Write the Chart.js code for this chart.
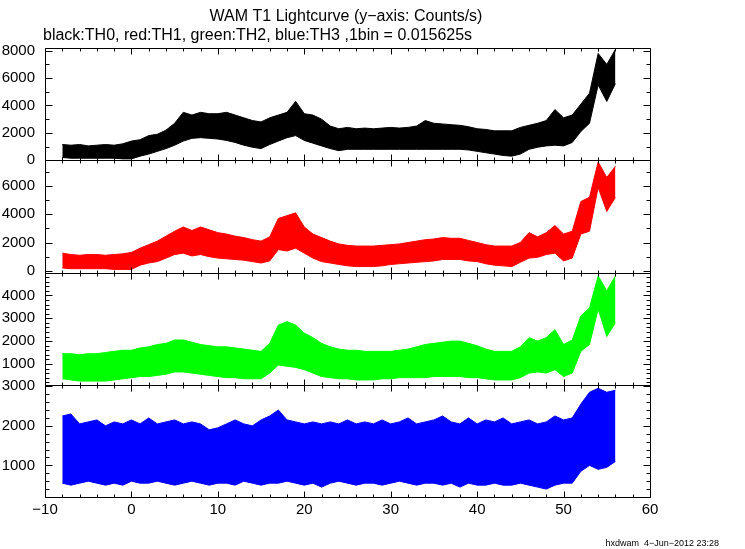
<!DOCTYPE html>
<html>
<head>
<meta charset="utf-8">
<title>WAM T1 Lightcurve</title>
<script src="https://cdn.jsdelivr.net/npm/chart.js@4.4.1/dist/chart.umd.min.js"></script>
<style>
  body { margin: 0; background: #fff; }
  canvas { display: block; }
</style>
</head>
<body>
<canvas id="lc" width="745" height="549"></canvas>
<script>
// time bins (s), one per second
const times = [-8, -7, -6, -5, -4, -3, -2, -1, 0, 1, 2, 3, 4, 5, 6, 7, 8, 9, 10, 11, 12,
  13, 14, 15, 16, 17, 18, 19, 20, 21, 22, 23, 24, 25, 26, 27, 28, 29, 30, 31, 32, 33, 34,
  35, 36, 37, 38, 39, 40, 41, 42, 43, 44, 45, 46, 47, 48, 49, 50, 51, 52, 53, 54, 55, 56];

// upper / lower envelope of each noisy lightcurve (counts/s)
const th0Upper = [1150, 1100, 1150, 1050, 1100, 1150, 1100, 1200, 1400, 1500, 1800, 1900, 2200,
  2700, 3500, 3300, 3500, 3400, 3400, 3500, 3300, 3100, 2900, 2800, 3100, 3300, 3500, 4300, 3400,
  3300, 3000, 2500, 2300, 2400, 2300, 2350, 2300, 2350, 2400, 2350, 2400, 2500, 2900, 2700, 2650,
  2600, 2550, 2450, 2300, 2250, 2150, 2150, 2150, 2400, 2550, 2700, 2900, 3700, 3100, 3300, 4100,
  4900, 7800, 7000, 8100];
const th0Lower = [200, 150, 150, 150, 150, 150, 150, 100, 100, 300, 450, 650, 850, 1100, 1400,
  1600, 1650, 1600, 1550, 1450, 1300, 1100, 950, 850, 1150, 1400, 1650, 1800, 1450, 1250, 1050,
  850, 700, 800, 800, 800, 800, 800, 800, 800, 800, 800, 800, 800, 800, 800, 800, 750, 650, 550,
  450, 350, 300, 450, 800, 950, 1050, 1100, 1050, 1300, 2100, 2700, 5500, 4300, 5600];

const th1Upper = [1250, 1150, 1100, 1150, 1150, 1100, 1150, 1200, 1300, 1600, 1850, 2100, 2450,
  2800, 3100, 2850, 3100, 2900, 2700, 2600, 2450, 2350, 2200, 2100, 2400, 3700, 3900, 4100, 3100,
  2600, 2350, 2100, 1900, 1800, 1750, 1750, 1750, 1800, 1850, 1900, 2000, 2100, 2200, 2250, 2350,
  2300, 2300, 2150, 2000, 1850, 1750, 1750, 1750, 2000, 2700, 2400, 2700, 3200, 2600, 2800, 4900,
  5200, 7700, 6600, 7400];
const th1Lower = [200, 150, 150, 150, 150, 150, 100, 100, 100, 400, 550, 650, 900, 1150, 1250,
  1050, 1150, 1000, 900, 850, 800, 750, 650, 550, 700, 1500, 1400, 1600, 1250, 900, 650, 550, 450,
  350, 300, 300, 300, 350, 450, 500, 550, 600, 650, 700, 800, 800, 800, 700, 650, 500, 400, 350,
  300, 600, 900, 950, 1150, 1250, 700, 900, 2600, 2800, 5900, 4200, 5200];

const th2Upper = [1450, 1450, 1400, 1450, 1450, 1500, 1550, 1600, 1600, 1700, 1750, 1850, 1900,
  2050, 2050, 1950, 1850, 1800, 1750, 1750, 1700, 1650, 1600, 1550, 1900, 2700, 2850, 2700, 2350,
  2150, 1900, 1750, 1650, 1600, 1600, 1550, 1550, 1550, 1550, 1600, 1650, 1750, 1850, 1900, 1950,
  2000, 2000, 1900, 1800, 1650, 1550, 1550, 1550, 1750, 2150, 2000, 2150, 2500, 1850, 2050, 3100,
  3450, 4850, 4200, 4850];
const th2Lower = [350, 300, 250, 250, 250, 250, 300, 350, 400, 450, 450, 500, 550, 650, 650, 600,
  550, 500, 450, 400, 400, 350, 350, 350, 600, 950, 900, 850, 750, 600, 450, 400, 350, 350, 300,
  300, 300, 350, 350, 400, 400, 400, 400, 450, 450, 450, 450, 400, 400, 350, 300, 300, 300, 400,
  600, 650, 600, 750, 450, 600, 1550, 1850, 3400, 2200, 2800];

const th3Upper = [2250, 2300, 2050, 2100, 2150, 2000, 2100, 2050, 2150, 2050, 2200, 2050, 2100,
  2150, 2050, 2100, 2050, 1900, 1950, 2050, 2150, 2050, 2000, 2150, 2250, 2400, 2150, 2100, 2050,
  2100, 2050, 2100, 2050, 2150, 2050, 2100, 2050, 2150, 2050, 2100, 2200, 2050, 2100, 2150, 2250,
  2100, 2050, 2200, 2050, 2150, 2100, 2200, 2050, 2100, 2150, 2050, 2100, 2250, 2150, 2200, 2550,
  2850, 2950, 2850, 2900];
const th3Lower = [550, 500, 550, 600, 550, 500, 550, 500, 600, 550, 550, 600, 550, 500, 550, 600,
  550, 500, 550, 550, 500, 600, 550, 500, 550, 550, 600, 550, 500, 550, 450, 550, 600, 550, 500,
  550, 550, 500, 550, 600, 550, 500, 550, 550, 500, 550, 450, 550, 500, 500, 550, 500, 500, 550,
  500, 450, 400, 500, 550, 550, 850, 1000, 900, 950, 1100];

// tick labels
const xTicks = [-10, 0, 10, 20, 30, 40, 50, 60];
const th0Ticks = [0, 2000, 4000, 6000, 8000];
const th1Ticks = [0, 2000, 4000, 6000];
const th2Ticks = [1000, 2000, 3000, 4000];
const th3Ticks = [1000, 2000, 3000];

const panels = [
  { id: 'y0', color: '#000000', upper: th0Upper, lower: th0Lower, ticks: th0Ticks, min: 0, max: 8200, major: 2000, minor: 1000 },
  { id: 'y1', color: '#ff0000', upper: th1Upper, lower: th1Lower, ticks: th1Ticks, min: -120, max: 7820, major: 2000, minor: 1000 },
  { id: 'y2', color: '#00ff00', upper: th2Upper, lower: th2Lower, ticks: th2Ticks, min: 90, max: 5000, major: 1000, minor: 200 },
  { id: 'y3', color: '#0000ff', upper: th3Upper, lower: th3Lower, ticks: th3Ticks, min: 200, max: 3040, major: 1000, minor: 200 }
];

const toPoints = vals => vals.map((v, i) => ({ x: times[i], y: v }));

const datasets = [];
panels.forEach(p => {
  datasets.push({ data: toPoints(p.lower), yAxisID: p.id, borderColor: p.color, borderWidth: 1,
    pointRadius: 0, fill: false, tension: 0 });
  datasets.push({ data: toPoints(p.upper), yAxisID: p.id, borderColor: p.color, backgroundColor: p.color,
    borderWidth: 1, pointRadius: 0, fill: '-1', tension: 0 });
});

const minus = v => (v < 0 ? '\u2212' + Math.abs(v) : String(v));

const scales = {
  x: {
    type: 'linear', min: -10, max: 60,
    grid: { display: false, drawTicks: false }, border: { display: false },
    ticks: { padding: 4, color: '#000', callback: minus, maxRotation: 0, autoSkip: false },
    afterBuildTicks: s => { s.ticks = xTicks.map(v => ({ value: v })); },
    afterFit: s => { s.height = 30; }
  }
};
panels.forEach((p, i) => {
  scales[p.id] = {
    type: 'linear', position: 'left', stack: 'lc', stackWeight: 1, weight: panels.length - i,
    min: p.min, max: p.max,
    grid: { display: false, drawTicks: false }, border: { display: false },
    ticks: { padding: 10, color: '#000', callback: minus, autoSkip: false },
    afterBuildTicks: s => { s.ticks = p.ticks.map(v => ({ value: v })); },
    afterFit: s => { s.width = 45; }
  };
});

// frame boxes and inward tick marks, like the original plot
const framePlugin = {
  id: 'frame',
  afterDatasetsDraw(chart) {
    const ctx = chart.ctx;
    const xs = chart.scales.x;
    const left = Math.round(chart.chartArea.left) + 0.5;
    const right = Math.round(chart.chartArea.right) + 0.5;
    const seg = (x1, y1, x2, y2) => { ctx.moveTo(x1, y1); ctx.lineTo(x2, y2); };
    ctx.save();
    ctx.strokeStyle = '#000';
    ctx.lineWidth = 1;
    ctx.beginPath();
    panels.forEach(p => {
      const s = chart.scales[p.id];
      const top = Math.round(s.top) + 0.5;
      const bottom = Math.round(s.bottom) + 0.5;
      ctx.rect(left, top, right - left, bottom - top);
      for (let v = Math.ceil(s.min / p.minor) * p.minor; v <= s.max; v += p.minor) {
        const y = Math.round(s.getPixelForValue(v)) + 0.5;
        const len = v % p.major === 0 ? 7 : 4;
        seg(left, y, left + len, y);
        seg(right, y, right - len, y);
      }
      for (let t = -10; t <= 60; t += 2) {
        const x = Math.round(xs.getPixelForValue(t)) + 0.5;
        const len = t % 10 === 0 ? 6 : 3;
        seg(x, top, x, top + len);
        seg(x, bottom, x, bottom - len);
      }
    });
    ctx.stroke();
    ctx.restore();
  },
  afterDraw(chart) {
    const ctx = chart.ctx;
    ctx.save();
    ctx.fillStyle = '#000';
    ctx.textBaseline = 'middle';
    ctx.font = '16px "Liberation Sans", Arial, sans-serif';
    ctx.textAlign = 'center';
    ctx.fillText('WAM T1 Lightcurve (y\u2212axis: Counts/s)', 346, 17);
    ctx.textAlign = 'left';
    ctx.fillText('black:TH0, red:TH1, green:TH2, blue:TH3 ,1bin = 0.015625s', 43, 36);
    ctx.font = '9px "Liberation Sans", Arial, sans-serif';
    ctx.textAlign = 'right';
    ctx.fillText('hxdwam  4\u2212Jun\u22122012 23:28', 719, 544);
    ctx.restore();
  }
};

Chart.defaults.font.family = '"Liberation Sans", Arial, sans-serif';
Chart.defaults.font.size = 15;
Chart.defaults.color = '#000';

new Chart(document.getElementById('lc').getContext('2d'), {
  type: 'line',
  data: { datasets: datasets },
  options: {
    responsive: false,
    animation: false,
    layout: { padding: { top: 48, right: 95, bottom: 22, left: 0 } },
    plugins: { legend: { display: false }, tooltip: { enabled: false } },
    scales: scales
  },
  plugins: [framePlugin]
});
</script>
</body>
</html>
